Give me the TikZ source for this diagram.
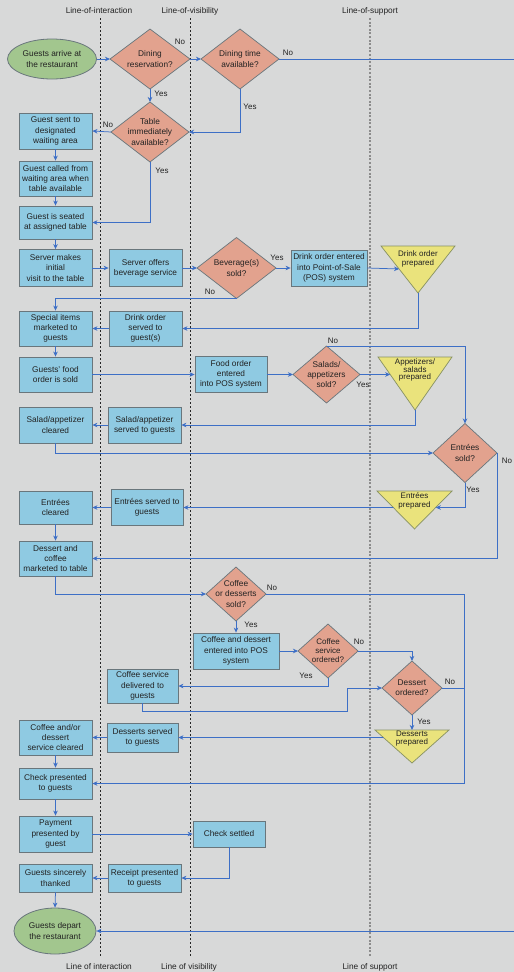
\documentclass[tikz,border=0pt]{standalone}
\usepackage{fontspec}
\setmainfont{Liberation Sans}
\usetikzlibrary{arrows.meta,calc,shapes.geometric}
\definecolor{bgc}{HTML}{D8D9D9}
\definecolor{boxc}{HTML}{8FCAE2}
\definecolor{dic}{HTML}{E2A28E}
\definecolor{tric}{HTML}{EAE37C}
\definecolor{ellc}{HTML}{A2C68E}
\definecolor{edgec}{HTML}{69767C}
\definecolor{linec}{HTML}{3D6FC6}
\definecolor{txtc}{HTML}{222222}
\pgfdeclarelayer{bglayer}
\pgfdeclarelayer{shapelayer}
\pgfsetlayers{bglayer,shapelayer,main}
\begin{document}
\begin{tikzpicture}[x=1pt,y=-1pt,
  every node/.style={font=\fontsize{8.3}{10.2}\selectfont, text=txtc, align=center, inner sep=0.5pt},
  proc/.style={draw=edgec, line width=0.8pt, fill=boxc},
  term/.style={ellipse, draw=edgec, line width=0.8pt, fill=ellc},
  dia/.style={rectangle, outer sep=0pt},
  tri/.style={rectangle, outer sep=0pt, font=\fontsize{8}{8.5}\selectfont},
  conn/.style={draw=linec, line width=0.75pt},
  arr/.style={conn, -{Stealth[length=5pt,width=4.5pt,inset=1.5pt]}},
  lab/.style={font=\fontsize{8}{9}\selectfont, inner sep=0pt},
  laneline/.style={draw=black!85, line width=0.6pt, dash pattern=on 2pt off 2pt},
  supline/.style={draw=black!45, line width=1.1pt, dash pattern=on 2pt off 1.6pt},
  lanelab/.style={font=\fontsize{8.3}{10}\selectfont, inner sep=0pt}
]
\useasboundingbox (0,0) rectangle (514,972);
\begin{pgfonlayer}{bglayer}
  \fill[bgc] (0,0) rectangle (514,972);
  \draw[laneline] (100,18) -- (100,957);
  \draw[laneline] (190,18) -- (190,957);
  \draw[supline] (370,18) -- (370,957);
\end{pgfonlayer}

% lane labels
\node[lanelab] (li1) at (99,11) {Line-of-interaction};
\node[lanelab] (lv1) at (190,11) {Line-of-visibility};
\node[lanelab] (ls1) at (370,11) {Line-of-support};
\node[lanelab] (li2) at (99,967) {Line of interaction};
\node[lanelab] (lv2) at (189,967) {Line of visibility};
\node[lanelab] (ls2) at (370,967) {Line of support};

% terminals
\node[term, minimum width=89, minimum height=40] (e1) at (52,59) {Guests arrive at\\the restaurant};
\node[term, minimum width=82, minimum height=46] (e2) at (55,931) {Guests depart\\the restaurant};

% decisions
\node[dia, minimum width=80, minimum height=60] (res) at (150,59) {Dining\\reservation?};
\node[dia, minimum width=78, minimum height=60] (dt) at (240,59) {Dining time\\available?};
\node[dia, minimum width=78, minimum height=60] (tab) at (150,132) {Table\\immediately\\available?};
\node[dia, minimum width=79, minimum height=61] (bev) at (236.5,268) {Beverage(s)\\sold?};
\node[dia, minimum width=67, minimum height=57] (sal) at (326.5,374.5) {Salads/\\appetizers\\sold?};
\node[dia, minimum width=64, minimum height=59] (ent) at (465,453) {Entrées\\sold?};
\node[dia, minimum width=60, minimum height=54] (cd) at (236,594) {Coffee\\or desserts\\sold?};
\node[dia, minimum width=60, minimum height=54, font=\fontsize{8}{9}\selectfont] (cso) at (328,651) {Coffee\\service\\ordered?};
\node[dia, minimum width=60, minimum height=54] (dess) at (412,688) {Dessert\\ordered?};

% process boxes
\node[proc, minimum width=73, minimum height=36] (b5) at (55.5,131) {Guest sent to\\designated\\waiting area};
\node[proc, minimum width=73, minimum height=35] (b6) at (55.5,178.5) {Guest called from\\waiting area when\\table available};
\node[proc, minimum width=73, minimum height=33] (b7) at (55.5,222.5) {Guest is seated\\at assigned table};
\node[proc, minimum width=73, minimum height=37] (b8) at (55.5,268) {Server makes\\initial\\visit to the table};
\node[proc, minimum width=73, minimum height=37] (b9) at (145.5,268) {Server offers\\beverage service};
\node[proc, minimum width=76, minimum height=36] (b11) at (329,268) {Drink order entered\\into Point-of-Sale\\(POS) system};
\node[proc, minimum width=73, minimum height=35] (b13) at (55.5,328.5) {Special items\\marketed to\\guests};
\node[proc, minimum width=73, minimum height=35] (b14) at (145.5,328.5) {Drink order\\served to\\guest(s)};
\node[proc, minimum width=73, minimum height=35] (b15) at (55.5,374.5) {Guests' food\\order is sold};
\node[proc, minimum width=72, minimum height=36] (b16) at (231,374.5) {Food order\\entered\\into POS system};
\node[proc, minimum width=73, minimum height=36] (b19) at (55.5,425) {Salad/appetizer\\cleared};
\node[proc, minimum width=73, minimum height=36] (b20) at (144.5,425) {Salad/appetizer\\served to guests};
\node[proc, minimum width=73, minimum height=33] (b23) at (55.5,507.5) {Entrées\\cleared};
\node[proc, minimum width=72, minimum height=36] (b24) at (147,507.5) {Entrées served to\\guests};
\node[proc, minimum width=73, minimum height=35] (b25) at (55.5,558.5) {Dessert and\\coffee\\marketed to table};
\node[proc, minimum width=86, minimum height=36] (b27) at (236,651) {Coffee and dessert\\entered into POS\\system};
\node[proc, minimum width=71, minimum height=34] (b31) at (142.5,686) {Coffee service\\delivered to\\guests};
\node[proc, minimum width=71, minimum height=29] (b32) at (142.5,737.5) {Desserts served\\to guests};
\node[proc, minimum width=73, minimum height=35] (b33) at (55.5,737.5) {Coffee and/or\\dessert\\service cleared};
\node[proc, minimum width=73, minimum height=31] (b34) at (55.5,783.5) {Check presented\\to guests};
\node[proc, minimum width=73, minimum height=36] (b35) at (55.5,834) {Payment\\presented by\\guest};
\node[proc, minimum width=72, minimum height=26] (b36) at (229,834) {Check settled};
\node[proc, minimum width=73, minimum height=28] (b37) at (144.5,878) {Receipt presented\\to guests};
\node[proc, minimum width=73, minimum height=28] (b38) at (55.5,878) {Guests sincerely\\thanked};

% support-area triangles (text area + apex)
\node[tri, minimum width=74, minimum height=26] (t1) at (418,259) {Drink order\\prepared};
\coordinate (t1a) at (418,293);
\node[tri, minimum width=74, minimum height=26, font=\fontsize{8}{7.6}\selectfont] (t2) at (415,370) {Appetizers/\\salads\\prepared};
\coordinate (t2a) at (415,410);
\node[tri, minimum width=75, minimum height=20] (t3) at (414.5,501) {Entrées\\prepared};
\coordinate (t3a) at (414.5,529);
\node[tri, minimum width=74, minimum height=17] (t4) at (412,738.5) {Desserts\\prepared};
\coordinate (t4a) at (412,763);

\coordinate (t1in) at ($(t1.north west)!0.489!(t1a)$);
\coordinate (t2in) at ($(t2.north west)!0.33!(t2a)$);
\coordinate (t3in) at ($(t3.north east)!0.434!(t3a)$);
\coordinate (t3out) at ($(t3.north west)!0.434!(t3a)$);
\coordinate (t4out) at ($(t4.north west)!0.227!(t4a)$);

\begin{pgfonlayer}{shapelayer}
  \foreach \n in {res,dt,tab,bev,sal,ent,cd,cso,dess}
    \filldraw[fill=dic, draw=edgec, line width=0.7pt] (\n.north) -- (\n.east) -- (\n.south) -- (\n.west) -- cycle;
  \foreach \n in {t1,t2,t3,t4}
    \filldraw[fill=tric, draw=edgec!80!yellow, line width=0.7pt] (\n.north west) -- (\n.north east) -- (\n a) -- cycle;
\end{pgfonlayer}

% connectors
\draw[arr] (e1.east) -- (res.west);
\draw[arr] (res.east) -- (dt.west);
\draw[arr] (res.south) -- (tab.north);
\draw[arr] (dt.east) -- ++(250,0) |- (e2.east);
\draw[arr] (dt.south) |- (tab.east);
\draw[arr] (tab.west) -- (b5.east);
\draw[arr] (b5.south) -- (b6.north);
\draw[arr] (b6.south) -- (b7.north);
\draw[arr] (tab.south) |- (b7.east);
\draw[arr] (b7.south) -- (b8.north);
\draw[arr] (b8.east) -- (b9.west);
\draw[arr] (b9.east) -- (bev.west);
\draw[arr] (bev.east) -- (b11.west);
\draw[arr] (b11.east) -- (t1in);
\draw[arr] (bev.south) -| (b13.north);
\draw[arr] (t1a) |- (b14.east);
\draw[arr] (b14.west) -- (b13.east);
\draw[arr] (b13.south) -- (b15.north);
\draw[arr] (b15.east) -- (b16.west);
\draw[arr] (b16.east) -- (sal.west);
\draw[arr] (sal.north) -| (ent.north);
\draw[arr] (sal.east) -- (t2in);
\draw[arr] (t2a) |- (b20.east);
\draw[arr] (b20.west) -- (b19.east);
\draw[arr] (b19.south) |- (ent.west);
\draw[arr] (ent.south) |- (t3in);
\draw[arr] (t3out) -- (b24.east);
\draw[arr] (b24.west) -- (b23.east);
\draw[arr] (b23.south) -- (b25.north);
\draw[arr] (ent.east) |- (b25.east);
\draw[arr] (b25.south) |- (cd.west);
\draw[arr] (cd.south) -- (b27.north);
\draw[arr] (cd.east) -- ++(198,0) |- (b34.east);
\draw[arr] (b27.east) -- (cso.west);
\draw[arr] (cso.east) -| (dess.north);
\draw[arr] (cso.south) |- (b31.east);
\draw[arr] (b31.south) -- ++(0,8) -- ++(204.5,0) |- (dess.west);
\draw[conn] (dess.east) -- ++(22,0);
\draw[arr] (dess.south) -- (t4.north);
\draw[arr] (t4out) -- (b32.east);
\draw[arr] (b32.west) -- (b33.east);
\draw[arr] (b33.south) -- (b34.north);
\draw[arr] (b34.south) -- (b35.north);
\draw[arr] (b35.east) -- (b36.west);
\draw[arr] (b36.south) |- (b37.east);
\draw[arr] (b37.west) -- (b38.east);
\draw[arr] (b38.south) -- (e2.north);

% Yes / No labels
\node[lab] (n1) at (180,42) {No};
\node[lab] (y1) at (161,94) {Yes};
\node[lab] (n2) at (288,53) {No};
\node[lab] (y2) at (250,107) {Yes};
\node[lab] (n3) at (108,125) {No};
\node[lab] (y3) at (162,171) {Yes};
\node[lab] (y4) at (277,258) {Yes};
\node[lab] (n4) at (210,292) {No};
\node[lab] (n5) at (333,341) {No};
\node[lab] (y5) at (363,385) {Yes};
\node[lab] (n6) at (507,461) {No};
\node[lab] (y6) at (473,490) {Yes};
\node[lab] (n7) at (272,588) {No};
\node[lab] (y7) at (251,625) {Yes};
\node[lab] (n8) at (359,642) {No};
\node[lab] (y8) at (306,676) {Yes};
\node[lab] (n9) at (450,682) {No};
\node[lab] (y9) at (424,722) {Yes};
\end{tikzpicture}
\end{document}
